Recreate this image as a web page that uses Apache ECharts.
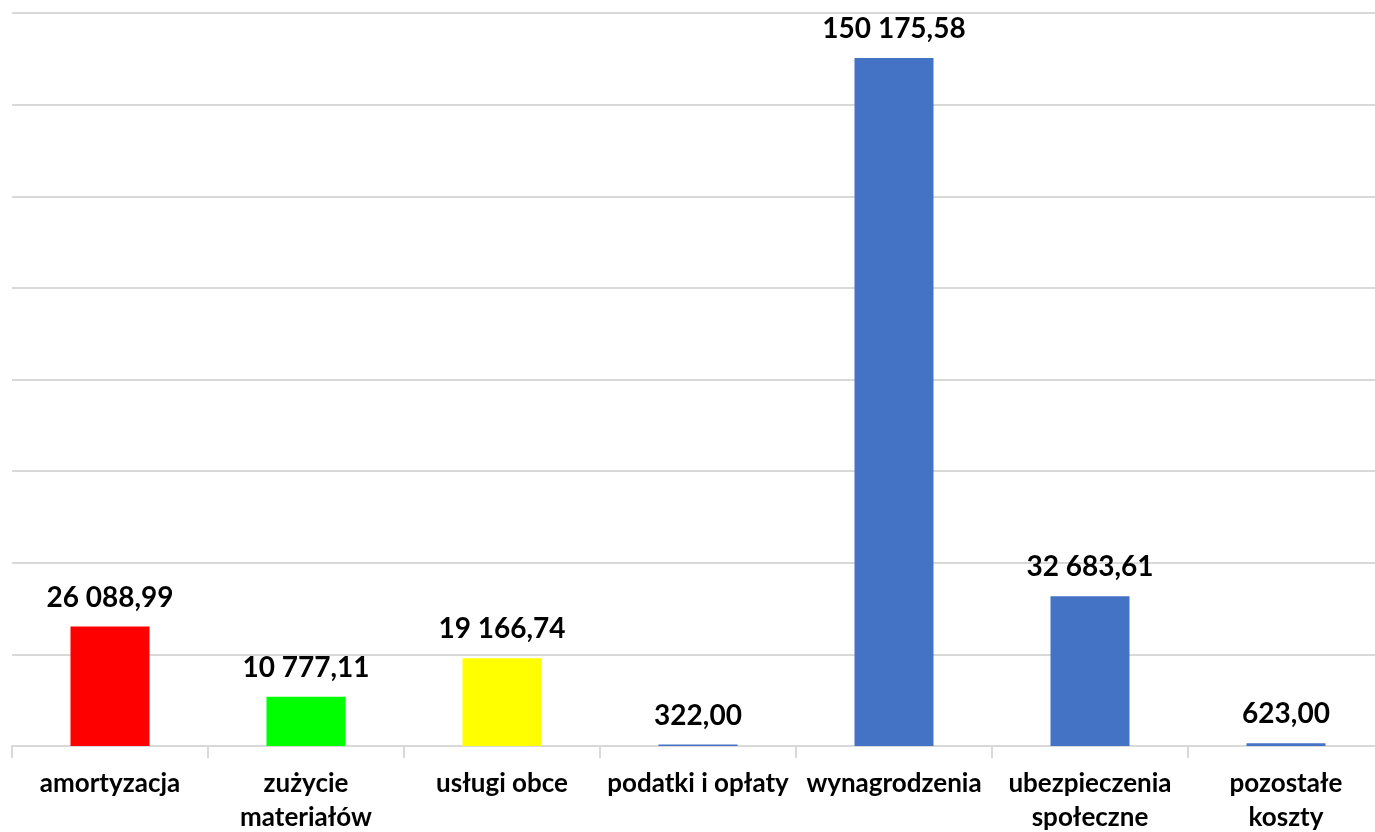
<!DOCTYPE html>
<html>
<head>
<meta charset="utf-8">
<script src="https://cdn.jsdelivr.net/npm/echarts@6/dist/echarts.min.js"></script>
<style>
  html, body { margin: 0; padding: 0; background: #fff; }
  #main { width: 1375px; height: 832px; }
</style>
</head>
<body>
<div id="main"></div>
<script>
// dane
var categories = ['amortyzacja', 'zużycie\nmateriałów', 'usługi obce', 'podatki i opłaty',
  'wynagrodzenia', 'ubezpieczenia\nspołeczne', 'pozostałe\nkoszty']
var values = [26088.99, 10777.11, 19166.74, 322.00, 150175.58, 32683.61, 623.00]
var barColors = ['#FF0000', '#00FF00', '#FFFF00', '#4472C4', '#4472C4', '#4472C4', '#4472C4']

var myChart = echarts.init(document.getElementById('main'))

function fmt(v) {
  var parts = v.toFixed(2).split('.')
  var intPart = parts[0].replace(/\B(?=(\d{3})+(?!\d))/g, ' ')
  return intPart + ',' + parts[1]
}

var option = {
  animation: false,
  grid: {
    left: 12,
    top: 13,
    width: 1372,
    height: 733,
    outerBoundsMode: 'none',
    containLabel: false
  },
  xAxis: {
    type: 'category',
    data: categories,
    axisLine: { lineStyle: { color: '#d9d9d9', width: 2 } },
    axisTick: { show: true, length: 12, lineStyle: { color: '#d9d9d9', width: 2 } },
    axisLabel: {
      interval: 0,
      margin: 21,
      color: '#000',
      fontFamily: 'Lato',
      fontWeight: 'bold',
      fontSize: 26,
      lineHeight: 34
    }
  },
  yAxis: {
    type: 'value',
    min: 0,
    max: 160000,
    interval: 20000,
    axisLabel: { show: false },
    axisLine: { show: false },
    axisTick: { show: false },
    splitLine: { lineStyle: { color: '#d9d9d9', width: 2 } }
  },
  series: [{
    type: 'bar',
    data: values.map(function(v, i) {
      return { value: v, itemStyle: { color: barColors[i] } }
    }),
    barWidth: 79,
    label: {
      show: true,
      position: 'top',
      distance: 15,
      color: '#000',
      fontFamily: 'Lato',
      fontWeight: 'bold',
      fontSize: 28,
      formatter: function(p) { return fmt(p.value) }
    }
  }]
}

myChart.setOption(option)
</script>
</body>
</html>
